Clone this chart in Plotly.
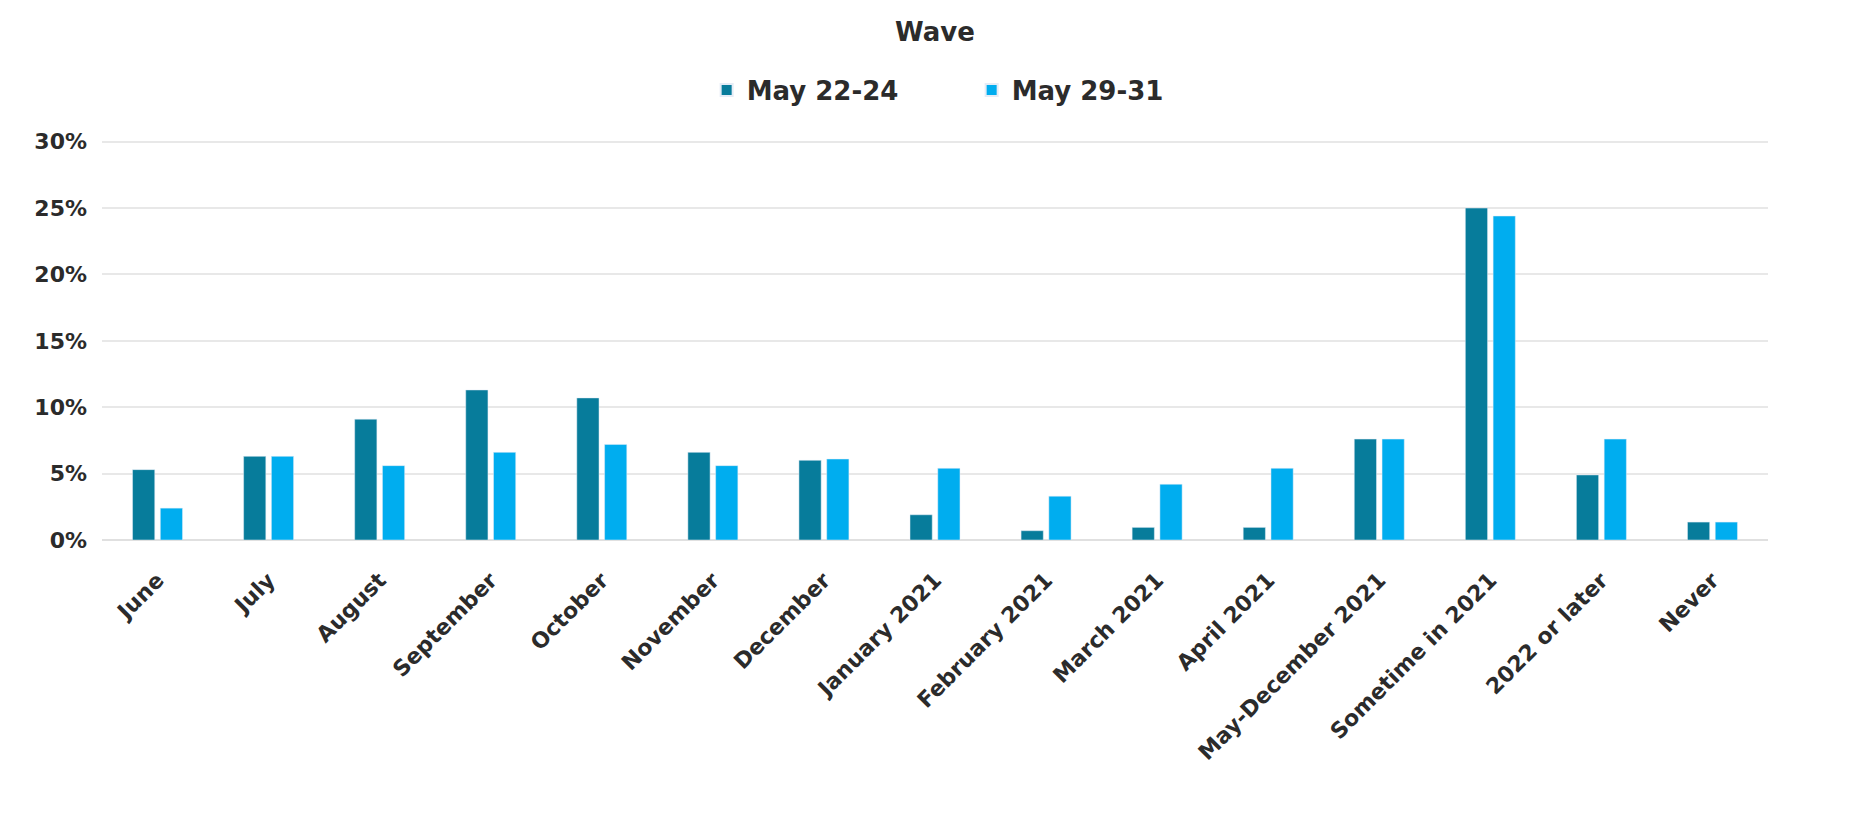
import plotly.graph_objects as go

categories = ["June", "July", "August", "September", "October", "November", "December",
              "January 2021", "February 2021", "March 2021", "April 2021",
              "May-December 2021", "Sometime in 2021", "2022 or later", "Never"]
may_22_24 = [5.3, 6.3, 9.1, 11.3, 10.7, 6.6, 6.0, 1.9, 0.7, 0.95, 0.95, 7.6, 25.0, 4.9, 1.35]
may_29_31 = [2.4, 6.3, 5.6, 6.6, 7.2, 5.6, 6.1, 5.4, 3.3, 4.2, 5.4, 7.6, 24.4, 7.6, 1.35]
y_ticks = [0, 5, 10, 15, 20, 25, 30]
y_tick_labels = ["0%", "5%", "10%", "15%", "20%", "25%", "30%"]

FONT = "DejaVu Sans"
TXT = "#2b2b2b"

fig = go.Figure()
fig.add_trace(go.Bar(name="May 22-24", x=categories, y=may_22_24, marker_color="#077c9b"))
fig.add_trace(go.Bar(name="May 29-31", x=categories, y=may_29_31, marker_color="#00adef"))

fig.update_layout(
    width=1855, height=817,
    paper_bgcolor="white", plot_bgcolor="white",
    barmode="group", bargap=0.5, bargroupgap=0.2,
    margin=dict(l=102, r=87, t=139, b=277),
    title=dict(text="<b>Wave</b>", x=0.5, xref="paper", xanchor="center",
               y=1 - 32 / 817, yref="container", yanchor="middle",
               font=dict(family=FONT, size=26, color=TXT)),
    legend=dict(orientation="h", x=0.522, xanchor="center", xref="paper",
                y=1 - 90 / 817, yref="container", yanchor="middle",
                font=dict(family=FONT, size=26, color=TXT, weight="bold"),
                itemsizing="constant", itemwidth=30,
                entrywidth=220, entrywidthmode="pixels"),
    showlegend=True,
    font=dict(family=FONT, color=TXT),
)
fig.update_yaxes(range=[0, 30.2], tickmode="array", tickvals=y_ticks, ticktext=y_tick_labels,
                 showgrid=True, gridcolor="#e8e8e8", gridwidth=2,
                 zeroline=True, zerolinecolor="#e0e0e0", zerolinewidth=2,
                 showline=False, ticklabelstandoff=14,
                 tickfont=dict(family=FONT, size=22, color=TXT, weight="bold"))
fig.update_xaxes(tickangle=-45, showline=False, showgrid=False, ticklabelstandoff=22,
                 tickfont=dict(family=FONT, size=22, color=TXT, weight="bold"))

fig.write_html("out.html")
